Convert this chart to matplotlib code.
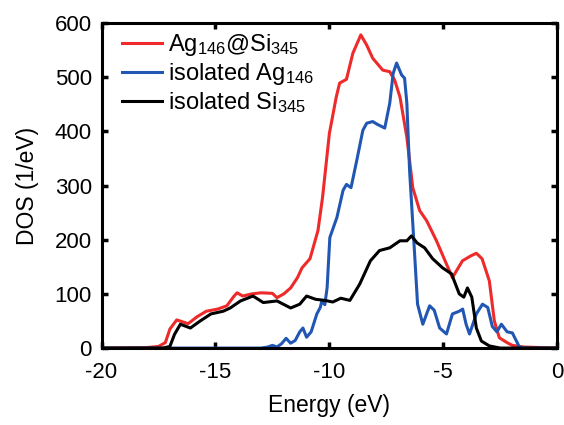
import matplotlib.pyplot as plt

plt.rcParams['font.family'] = ['Liberation Sans', 'DejaVu Sans']
plt.rcParams['mathtext.fontset'] = 'custom'
plt.rcParams['mathtext.rm'] = 'Liberation Sans'
plt.rcParams['mathtext.it'] = 'Liberation Sans'
plt.rcParams['axes.unicode_minus'] = False

# Ag146@Si345 (red)
e_red = [-20, -18, -17.5, -17.2, -17.0, -16.7, -16.2, -15.8, -15.4, -14.9, -14.5, -14.2, -14.05,
         -13.8, -13.4, -13.0, -12.5, -12.3, -12.0, -11.7, -11.4, -11.2, -10.85, -10.5, -10.3, -10.0,
         -9.7, -9.55, -9.25, -8.97, -8.62, -8.36, -8.1, -7.66, -7.35, -7.13, -6.9, -6.6, -6.34,
         -6.04, -5.73, -5.3, -4.86, -4.6, -4.16, -3.8, -3.55, -3.3, -2.98, -2.76, -2.54, -2.2,
         -1.97, -1.5, 0]
dos_red = [0, 1, 3, 10, 35, 52, 45, 58, 68, 72, 78, 95, 102,
           96, 100, 102, 101, 93, 100, 111, 130, 148, 165, 217, 278, 396,
           463, 489, 496, 544, 578, 559, 535, 513, 510, 494, 463, 389, 296,
           254, 235, 198, 155, 130, 161, 170, 175, 165, 124, 50, 19, 10,
           5, 2, 0]

# isolated Ag146 (blue)
e_blue = [-20, -13, -12.7, -12.5, -12.3, -12.1, -11.9, -11.7, -11.5, -11.3, -11.16, -11.0, -10.8,
          -10.55, -10.4, -10.33, -10.2, -10.1, -9.98, -9.67, -9.4, -9.25, -9.05, -8.8, -8.53, -8.36,
          -8.1, -7.9, -7.57, -7.35, -7.2, -7.05, -6.83, -6.7, -6.6, -6.48, -6.26, -6.13, -5.9,
          -5.6, -5.4, -5.16, -4.86, -4.6, -4.3, -4.15, -4.0, -3.85, -3.55, -3.28, -3.05, -2.85,
          -2.65, -2.45, -2.2, -1.97, -1.66, -1.3, 0]
dos_blue = [0, 0, 2, 5, 2, 8, 18, 9, 14, 30, 37, 20, 30,
            63, 75, 87, 80, 111, 204, 241, 291, 302, 296, 346, 402, 415,
            418, 413, 406, 452, 507, 526, 504, 498, 452, 328, 174, 81, 44,
            78, 70, 37, 26, 63, 68, 72, 44, 26, 63, 81, 75, 40,
            30, 44, 30, 28, 2, 0, 0]

# isolated Si345 (black)
e_black = [-20, -17.3, -17.0, -16.8, -16.54, -16.1, -15.67, -15.2, -14.66, -14.35, -13.9, -13.35,
           -12.9, -12.3, -11.7, -11.3, -11.0, -10.6, -10.2, -9.85, -9.5, -9.1, -8.67, -8.2, -7.8,
           -7.35, -6.9, -6.6, -6.4, -6.15, -5.82, -5.47, -5.03, -4.64, -4.3, -4.1, -3.94, -3.75,
           -3.55, -3.33, -2.98, -2.5, 0]
dos_black = [0, 0, 3, 25, 44, 37, 50, 63, 68, 74, 87, 96,
             84, 87, 74, 81, 96, 90, 88, 85, 92, 88, 118, 161, 180,
             185, 198, 198, 207, 194, 185, 165, 148, 137, 100, 94, 111, 94,
             37, 13, 4, 0, 0]

xticks = [-20, -15, -10, -5, 0]
yticks = [0, 100, 200, 300, 400, 500, 600]

fig = plt.figure(figsize=(5.64, 4.25), dpi=100)
ax = fig.add_axes([0.180, 0.181, 0.808, 0.765])

ax.plot(e_red, dos_red, color='#ee2a2a', lw=2.2, label='Ag$_{146}$@Si$_{345}$')
ax.plot(e_blue, dos_blue, color='#2157b3', lw=2.2, label='isolated Ag$_{146}$')
ax.plot(e_black, dos_black, color='black', lw=2.2, label='isolated Si$_{345}$')

ax.set_xlim(-20, 0)
ax.set_ylim(0, 600)
ax.set_xticks(xticks)
ax.set_yticks(yticks)
ax.tick_params(direction='in', length=4, width=2.5, top=True, right=True, labelsize=16)
ax.tick_params(axis='x', pad=10)
ax.tick_params(axis='y', pad=7)
for s in ax.spines.values():
    s.set_linewidth(2.2)

ax.set_xlabel('Energy (eV)', fontsize=16.5, labelpad=8)
ax.set_ylabel('DOS (1/eV)', fontsize=16.5, labelpad=11)

ax.legend(loc='upper left', frameon=False, fontsize=17, handlelength=1.7,
          handletextpad=0.25, labelspacing=0.12, borderaxespad=0,
          bbox_to_anchor=(0.025, 1.0))

fig.savefig('out.png', dpi=100)
